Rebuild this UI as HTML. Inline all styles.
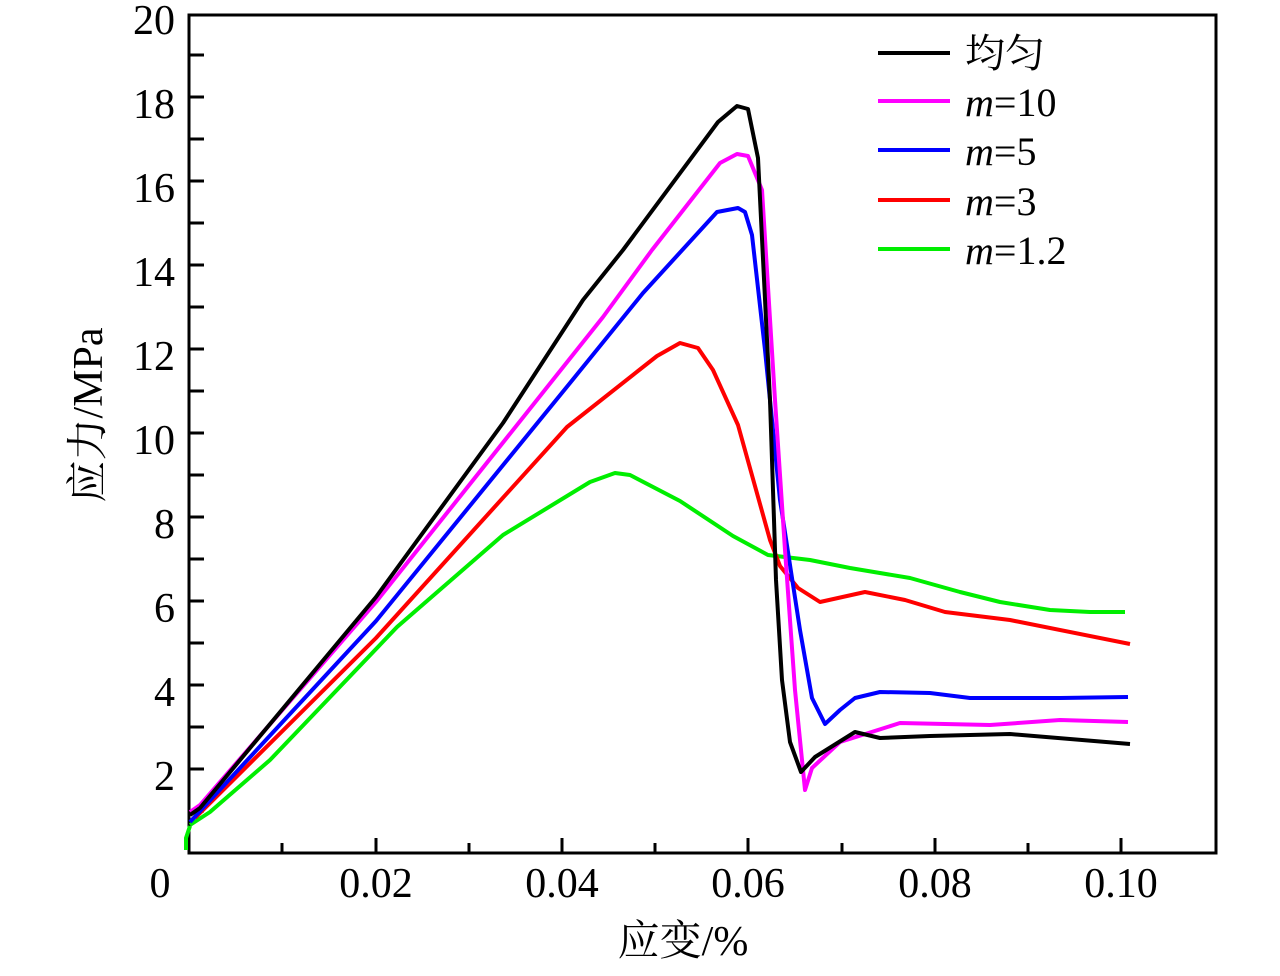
<!DOCTYPE html>
<html><head><meta charset="utf-8"><style>
body{margin:0;background:#fff}
text{font-family:"Liberation Serif","Noto Serif CJK SC",serif;fill:#000}
</style></head><body>
<svg width="1280" height="971" viewBox="0 0 1280 971" xmlns="http://www.w3.org/2000/svg">
<g stroke="#000" stroke-width="3" fill="none">
<rect x="189" y="15" width="1027" height="838"/>
<path d="M189 811h15M189 769h15M189 727h15M189 685h15M189 643h15M189 601h15M189 559h15M189 517h15M189 475h15M189 433h15M189 391h15M189 349h15M189 307h15M189 265h15M189 223h15M189 181h15M189 139h15M189 97h15M189 55h15" />
<path d="M282 853v-10M376 853v-15M469 853v-10M562 853v-15M655 853v-10M748 853v-15M842 853v-10M935 853v-15M1028 853v-10M1121 853v-15"/>
</g>
<g font-size="42" text-anchor="end">
<text x="175" y="34">20</text><text x="175" y="118">18</text><text x="175" y="202">16</text><text x="175" y="286">14</text><text x="175" y="370">12</text><text x="175" y="454">10</text><text x="175" y="538">8</text><text x="175" y="622">6</text><text x="175" y="706">4</text><text x="175" y="790">2</text>
</g>
<g font-size="42" text-anchor="middle">
<text x="160" y="897">0</text><text x="376" y="897">0.02</text><text x="562" y="897">0.04</text><text x="748" y="897">0.06</text><text x="935" y="897">0.08</text><text x="1121" y="897">0.10</text>
<text x="683" y="955">应变/%</text>
<text transform="translate(102,415) rotate(-90)">应力/MPa</text>
</g>
<g fill="none" stroke-width="4" stroke-linejoin="round">
<polyline stroke="#00ee00" points="186,850 186,838 190,826"/>
<polyline stroke="#00ee00" points="190,825 210,812 270,760 397,627 503,535 590,482 615,473 630,475 680,501 733,536 768,555 810,560 850,568 910,578 960,592 1000,602 1050,610 1090,612 1125,612"/>
<polyline stroke="#ff0000" points="195,818 376,638 567,427 657,356 680,343 698,348 713,370 738,425 770,540 780,566 798,588 820,602 865,592 905,600 945,612 1010,620 1130,644"/>
<polyline stroke="#0000ff" points="190,822 376,621 570,383 643,293 717,212 738,208 745,212 752,235 765,350 780,500 800,630 812,698 825,724 840,710 855,698 880,692 930,693 970,698 1060,698 1128,697"/>
<polyline stroke="#ff00ff" points="190,812 200,805 376,602 603,317 652,250 720,163 737,154 748,156 762,190 775,400 785,550 795,690 805,790 812,768 840,742 900,723 990,725 1060,720 1128,722"/>
<polyline stroke="#000" points="190,815 200,808 376,597 503,423 583,300 623,250 718,122 737,106 748,109 758,158 770,400 776,580 782,680 790,742 801,772 815,757 855,732 880,738 930,736 1010,734 1130,744"/>
</g>
<g stroke-width="4">
<line x1="878" y1="53" x2="950" y2="53" stroke="#000"/>
<line x1="878" y1="101" x2="950" y2="101" stroke="#ff00ff"/>
<line x1="878" y1="150" x2="950" y2="150" stroke="#0000ff"/>
<line x1="878" y1="200" x2="950" y2="200" stroke="#ff0000"/>
<line x1="878" y1="249" x2="950" y2="249" stroke="#00ee00"/>
</g>
<g font-size="40">
<text x="965" y="67">均匀</text>
<text x="965" y="116"><tspan font-style="italic">m</tspan>=10</text>
<text x="965" y="165"><tspan font-style="italic">m</tspan>=5</text>
<text x="965" y="215"><tspan font-style="italic">m</tspan>=3</text>
<text x="965" y="264"><tspan font-style="italic">m</tspan>=1.2</text>
</g>
</svg>
</body></html>
